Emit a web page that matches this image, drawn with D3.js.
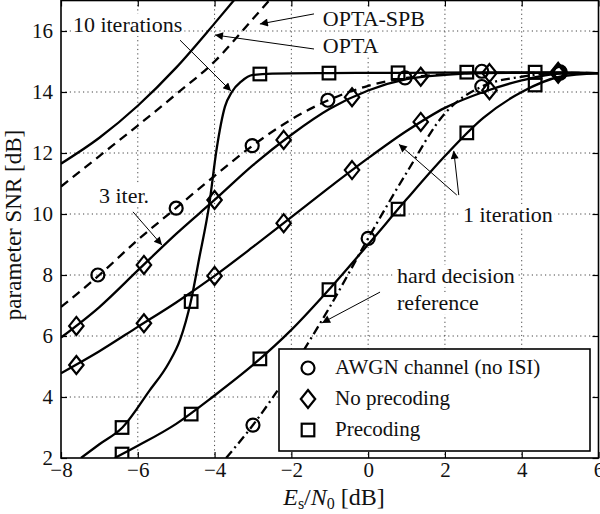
<!DOCTYPE html>
<html>
<head>
<meta charset="utf-8">
<script src="https://cdn.jsdelivr.net/npm/d3@7"></script>
<title>parameter SNR</title>
<style>
body { margin: 0; background: #fff; }
svg { display: block; font-family: "Liberation Serif", "Times New Roman", serif; }
.grid line { stroke: #444; stroke-width: 1; stroke-dasharray: 1.2,3.2; }
.axis text { font-size: 21px; fill: #111; font-family: "Liberation Serif", "Times New Roman", serif; }
.axis line { stroke: #000; stroke-width: 1.2; }
.curve { fill: none; stroke: #000; stroke-width: 2.3; }
.mark { fill: none; stroke: #000; stroke-width: 2.2; }
.note { font-size: 22px; fill: #111; }
.arrow { stroke: #000; stroke-width: 1; }
</style>
</head>
<body>
<script>

// ticks
var xTicks = [-8, -6, -4, -2, 0, 2, 4, 6];
var yTicks = [2, 4, 6, 8, 10, 12, 14, 16];

// OPTA (solid) and OPTA-SPB (dashed)
var optaX = [-8, -7, -6, -5, -4, -3.3];
var optaY = [11.65, 12.5, 13.55, 14.8, 16.25, 17.3];
var spbX = [-8, -7, -6, -5, -4, -3, -2.3];
var spbY = [10.9, 11.9, 12.9, 13.93, 15.0, 16.4, 17.4];

// AWGN, 3 iterations (dashed, circles)
var awgn3X = [-8, -7, -6, -5, -4, -3, -2, -1, 0, 1, 2, 3, 4, 5, 6];
var awgn3Y = [6.95, 8.0, 9.15, 10.2, 11.25, 12.25, 13.1, 13.75, 14.2, 14.46, 14.58, 14.63, 14.63, 14.63, 14.62];
var awgn3MX = [-7.04, -5, -3.02, -1.05, 0.96, 2.96, 5];
var awgn3MY = [8.0, 10.19, 12.24, 13.73, 14.46, 14.68, 14.66];

// no precoding, 3 iterations (solid, diamonds)
var noPre3X = [-8, -7, -6, -5, -4, -3, -2, -1, 0, 1, 2, 3, 4, 5, 6];
var noPre3Y = [5.95, 6.95, 8.15, 9.35, 10.46, 11.6, 12.6, 13.45, 14.05, 14.42, 14.56, 14.62, 14.63, 14.63, 14.62];
var noPre3MX = [-7.6, -5.84, -4.0, -2.2, -0.42, 1.37, 3.16, 4.95];
var noPre3MY = [6.33, 8.33, 10.46, 12.43, 13.83, 14.5, 14.62, 14.66];

// no precoding, 1 iteration (solid, diamonds)
var noPre1X = [-8, -7, -6, -5, -4, -3, -2, -1, 0, 1, 2, 3, 4, 5, 6];
var noPre1Y = [4.78, 5.5, 6.3, 7.1, 7.97, 8.92, 9.9, 10.88, 11.83, 12.72, 13.48, 14.0, 14.38, 14.6, 14.62];
var noPre1MX = [-7.6, -5.84, -4.0, -2.2, -0.42, 1.37, 3.16, 4.95];
var noPre1MY = [5.05, 6.42, 7.97, 9.7, 11.44, 13.02, 14.06, 14.6];

// precoding, 1 iteration (solid, squares)
var pre1X = [-6.6, -6, -5, -4, -3, -2, -1, 0, 1, 2, 3, 4, 5, 6];
var pre1Y = [2.0, 2.4, 3.12, 4.05, 5.05, 6.2, 7.55, 9.0, 10.48, 11.9, 13.15, 14.0, 14.5, 14.62];
var pre1MX = [-6.41, -4.61, -2.82, -1.02, 0.78, 2.57, 4.35];
var pre1MY = [2.13, 3.44, 5.25, 7.52, 10.16, 12.66, 14.23];

// precoding, 10 iterations (solid, squares)
var pre10X = [-7.48, -7, -6.4, -5.7, -5.2, -4.9, -4.62, -4.4, -4.14, -3.95, -3.73, -3.55, -3.3, -3.0, -2.5, -1, 1, 3, 5, 6];
var pre10Y = [2.0, 2.45, 3.0, 4.2, 5.1, 5.87, 7.12, 8.55, 10.3, 12.1, 13.52, 14.0, 14.35, 14.56, 14.6, 14.62, 14.63, 14.64, 14.64, 14.62];
var pre10MX = [-6.41, -4.61, -2.82, -1.02, 0.78, 2.57, 4.35];
var pre10MY = [3.0, 7.13, 14.59, 14.62, 14.63, 14.65, 14.65];

// hard decision reference (dash-dot, circles)
var hardX = [-3.7, -3, -2, -1, 0, 1, 2, 3, 4, 5, 6];
var hardY = [2.0, 3.08, 4.9, 6.95, 9.2, 11.35, 13.3, 14.2, 14.5, 14.62, 14.62];
var hardMX = [-3.0, 0, 2.96, 5];
var hardMY = [3.08, 9.2, 14.18, 14.62];

var legendLabels = ["AWGN channel (no ISI)", "No precoding", "Precoding"];
var legendShapes = ["circle", "diamond", "square"];

// annotations, in data units
var noteText = ["10 iterations", "OPTA-SPB", "OPTA", "3 iter.", "1 iteration", "hard decision", "reference"];
var noteX = [-7.69, -1.18, -1.18, -7.01, 2.47, 0.75, 0.75];
var noteY = [15.97, 16.16, 15.28, 10.36, 9.74, 7.74, 6.85];
var arrowFromX = [-1.41, -1.41, -4.90, -6.125, 2.31, 2.36, 0.31];
var arrowFromY = [16.56, 15.41, 15.70, 10.07, 10.62, 10.62, 7.44];
var arrowToX = [-2.82, -3.99, -3.57, -5.37, 0.80, 2.23, -1.20];
var arrowToY = [16.23, 15.87, 14.03, 8.98, 12.29, 12.07, 6.43];

var W = 600, H = 514;
var pL = 61, pR = 598.5, pT = 0.5, pB = 458;

var x = d3.scaleLinear().domain([-8, 6]).range([pL, pR]);
var y = d3.scaleLinear().domain([2, 17]).range([pB, pT]);

var svg = d3.select("body").append("svg")
    .attr("width", W)
    .attr("height", H);

var defs = svg.append("defs");
defs.append("clipPath").attr("id", "plot")
  .append("rect")
    .attr("x", pL).attr("y", pT)
    .attr("width", pR - pL).attr("height", pB - pT);
defs.append("marker")
    .attr("id", "head")
    .attr("viewBox", "0 0 10 10")
    .attr("refX", 10).attr("refY", 5)
    .attr("markerWidth", 13).attr("markerHeight", 8)
    .attr("markerUnits", "userSpaceOnUse")
    .attr("orient", "auto")
  .append("path")
    .attr("d", "M0,0L10,5L0,10z")
    .attr("fill", "#000");

// grid
var grid = svg.append("g").attr("class", "grid");
grid.selectAll(".gx").data(xTicks.slice(1, -1)).enter().append("line")
    .attr("x1", function(d) { return x(d); }).attr("x2", function(d) { return x(d); })
    .attr("y1", pT).attr("y2", pB);
grid.selectAll(".gy").data(yTicks.slice(1)).enter().append("line")
    .attr("x1", pL).attr("x2", pR)
    .attr("y1", function(d) { return y(d); }).attr("y2", function(d) { return y(d); });

// annotation texts, white behind them so the grid stops there
var notes = svg.append("g");
noteText.forEach(function(t, i) {
  var g = notes.append("g");
  var bg = g.append("rect").attr("fill", "#fff");
  var tx = g.append("text").attr("class", "note")
      .attr("x", x(noteX[i])).attr("y", y(noteY[i]))
      .text(t);
  var b = tx.node().getBBox();
  bg.attr("x", b.x - 2).attr("y", b.y + 2).attr("width", b.width + 4).attr("height", b.height - 3);
});

// curves
var line = d3.line()
    .x(function(d) { return x(d[0]); })
    .y(function(d) { return y(d[1]); })
    .curve(d3.curveMonotoneX);

var plot = svg.append("g").attr("clip-path", "url(#plot)");

function curve(xs, ys, dash) {
  plot.append("path")
      .attr("class", "curve")
      .attr("d", line(d3.zip(xs, ys)))
      .attr("stroke-dasharray", dash || null);
}

function shape(g, kind, cx, cy) {
  if (kind == "circle") {
    g.append("circle").attr("class", "mark").attr("cx", cx).attr("cy", cy).attr("r", 6.5);
  } else if (kind == "square") {
    g.append("rect").attr("class", "mark").attr("x", cx - 6.3).attr("y", cy - 6.3).attr("width", 12.6).attr("height", 12.6);
  } else {
    g.append("path").attr("class", "mark")
        .attr("d", "M" + cx + "," + (cy - 9) + "L" + (cx + 7.2) + "," + cy + "L" + cx + "," + (cy + 9) + "L" + (cx - 7.2) + "," + cy + "Z");
  }
}

function marks(xs, ys, kind) {
  xs.forEach(function(v, i) { shape(plot, kind, x(v), y(ys[i])); });
}

curve(optaX, optaY);
curve(spbX, spbY, "9,6");
curve(awgn3X, awgn3Y, "9,6");
curve(noPre3X, noPre3Y);
curve(noPre1X, noPre1Y);
curve(pre1X, pre1Y);
curve(pre10X, pre10Y);
curve(hardX, hardY, "9,4,2,4");

marks(awgn3MX, awgn3MY, "circle");
marks(hardMX, hardMY, "circle");
marks(noPre3MX, noPre3MY, "diamond");
marks(noPre1MX, noPre1MY, "diamond");
marks(pre1MX, pre1MY, "square");
marks(pre10MX, pre10MY, "square");

// arrows
svg.append("g").selectAll("line").data(arrowFromX).enter().append("line")
    .attr("class", "arrow")
    .attr("x1", function(d) { return x(d); })
    .attr("y1", function(d, i) { return y(arrowFromY[i]); })
    .attr("x2", function(d, i) { return x(arrowToX[i]); })
    .attr("y2", function(d, i) { return y(arrowToY[i]); })
    .attr("marker-end", "url(#head)");

// axes, ticks pointing inward on all four sides
var ax = svg.append("g").attr("class", "axis");
ax.append("g").attr("transform", "translate(0," + pB + ")")
    .call(d3.axisBottom(x).tickValues(xTicks).tickSize(-6).tickPadding(4));
ax.append("g").attr("transform", "translate(" + pL + ",0)")
    .call(d3.axisLeft(y).tickValues(yTicks).tickSize(-6).tickPadding(8));
ax.append("g").attr("transform", "translate(0," + pT + ")")
    .call(d3.axisTop(x).tickValues(xTicks).tickSize(-6).tickFormat(""));
ax.append("g").attr("transform", "translate(" + pR + ",0)")
    .call(d3.axisRight(y).tickValues(yTicks).tickSize(-6).tickFormat(""));
ax.selectAll(".domain").remove();

svg.append("rect")
    .attr("x", pL).attr("y", pT)
    .attr("width", pR - pL).attr("height", pB - pT)
    .attr("fill", "none").attr("stroke", "#000").attr("stroke-width", 1.6);

// legend
var lg = svg.append("g");
lg.append("rect")
    .attr("x", 279).attr("y", 349).attr("width", 311).attr("height", 102)
    .attr("fill", "#fff").attr("stroke", "#000").attr("stroke-width", 1.6);
legendLabels.forEach(function(t, i) {
  var cy = 368 + i * 31;
  shape(lg, legendShapes[i], 308, cy);
  lg.append("text")
      .attr("x", 335).attr("y", cy + 6)
      .style("font-size", "21px").attr("fill", "#111")
      .text(t);
});

// axis labels
var xl = svg.append("text")
    .attr("x", 334).attr("y", 505)
    .attr("text-anchor", "middle")
    .style("font-size", "24px").attr("fill", "#111");
xl.append("tspan").style("font-style", "italic").text("E");
xl.append("tspan").attr("baseline-shift", "-25%").style("font-size", "16px").text("s");
xl.append("tspan").text("/");
xl.append("tspan").style("font-style", "italic").text("N");
xl.append("tspan").attr("baseline-shift", "-25%").style("font-size", "16px").text("0");
xl.append("tspan").text(" [dB]");

svg.append("text")
    .attr("transform", "translate(21,225)rotate(-90)")
    .attr("text-anchor", "middle")
    .style("font-size", "23px").attr("fill", "#111")
    .text("parameter SNR [dB]");

</script>
</body>
</html>
